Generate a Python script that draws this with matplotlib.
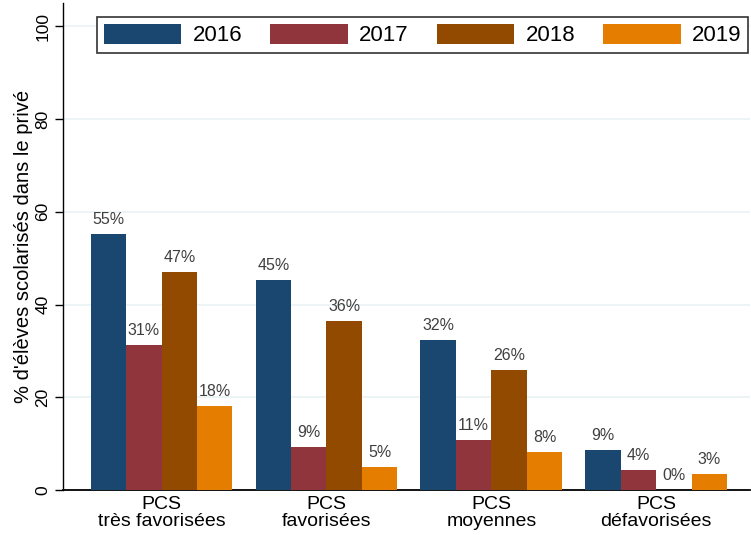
import matplotlib
matplotlib.use('Agg')
import matplotlib.pyplot as plt
import numpy as np

plt.rcParams['font.family'] = ['Liberation Sans', 'DejaVu Sans']

# données
categories = ['PCS\ntrès favorisées', 'PCS\nfavorisées', 'PCS\nmoyennes', 'PCS\ndéfavorisées']
years = ['2016', '2017', '2018', '2019']
v2016 = [55.3, 45.4, 32.3, 8.7]
v2017 = [31.2, 9.2, 10.8, 4.4]
v2018 = [47.0, 36.4, 25.8, 0.0]
v2019 = [18.2, 5.0, 8.2, 3.4]
series = [v2016, v2017, v2018, v2019]
colors = ['#1a476f', '#90353b', '#914a00', '#e57e00']

fig = plt.figure(figsize=(7.51, 5.35), dpi=100)
ax = fig.add_axes([0.084, 0.084, 0.915, 0.91])

x = np.arange(len(categories))
width = 0.215
for i, (vals, col) in enumerate(zip(series, colors)):
    pos = x + (i - 1.5) * width
    ax.bar(pos, vals, width, color=col, label=years[i], zorder=3)
    for p, v in zip(pos, vals):
        ax.annotate(f'{v:.0f}%', (p, v), textcoords='offset points', xytext=(0, 5),
                    ha='center', va='bottom', fontsize=11.5, color='#404040', zorder=4)

ax.set_xlim(-0.597, 3.57)
ax.set_ylim(0, 105)
ax.set_yticks([0, 20, 40, 60, 80, 100])
ax.set_yticklabels(['0', '20', '40', '60', '80', '100'], rotation=90, va='center')
ax.tick_params(axis='y', labelsize=12.5, length=6, width=1, direction='out', pad=3)
ax.set_xticks(x)
ax.set_xticklabels(categories, fontsize=14, linespacing=1.0)
ax.tick_params(axis='x', length=0, pad=4)
ax.set_ylabel("% d'élèves scolarisés dans le privé", fontsize=14.5, labelpad=2)

ax.grid(axis='y', color='#eaf2f3', linewidth=1.2, zorder=0)
ax.set_axisbelow(True)
for s in ['top', 'right']:
    ax.spines[s].set_visible(False)
ax.spines['left'].set_linewidth(1)
ax.spines['bottom'].set_linewidth(1.3)

leg = fig.legend(loc='lower left', ncol=4, mode='expand',
                 bbox_to_anchor=(97 / 751, 1 - 53 / 535, 651 / 751, 39 / 535),
                 fontsize=16, handlelength=3.5, handleheight=1.0, handletextpad=0.5,
                 borderaxespad=0, borderpad=0.3, fancybox=False, framealpha=1,
                 edgecolor='#333333')
leg.get_frame().set_linewidth(1.2)

plt.savefig('out.png', dpi=100)
